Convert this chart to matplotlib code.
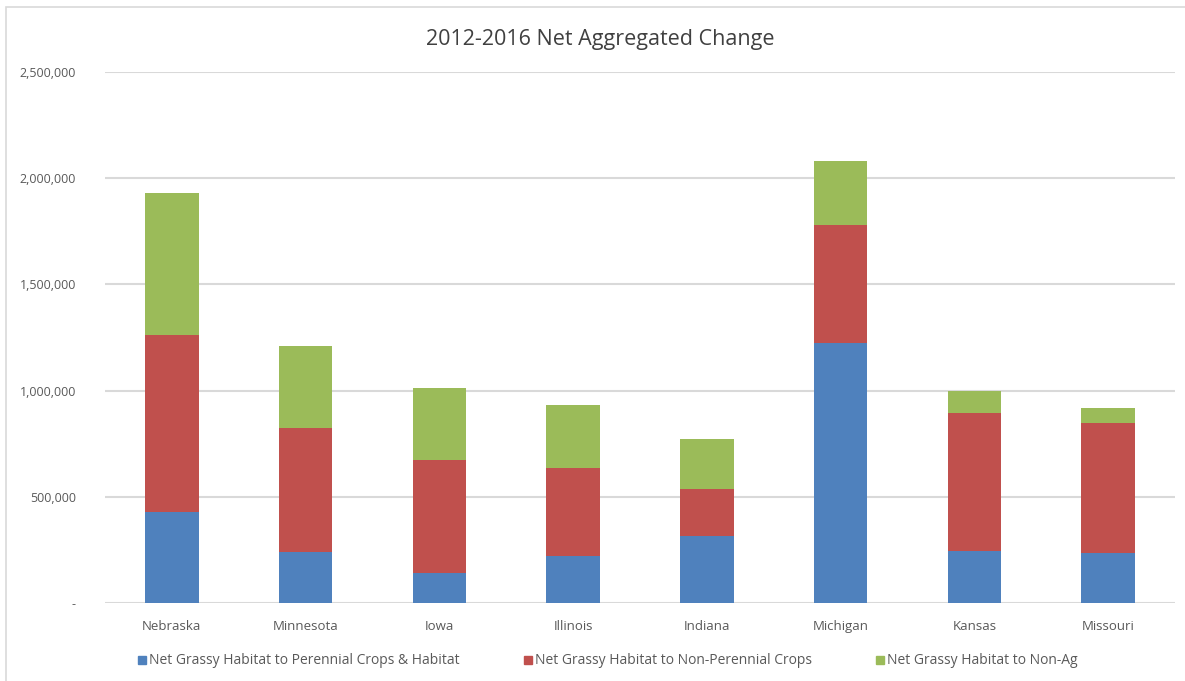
import matplotlib
matplotlib.use("Agg")
import matplotlib.pyplot as plt
from matplotlib.patches import Rectangle
from matplotlib.lines import Line2D

states = ["Nebraska", "Minnesota", "Iowa", "Illinois", "Indiana", "Michigan", "Kansas", "Missouri"]
perennial = [430000, 241000, 140000, 221000, 315000, 1223000, 245000, 234000]
non_perennial = [832000, 585000, 533000, 413000, 220000, 557000, 651000, 612000]
non_ag = [670000, 385000, 338000, 298000, 236000, 302000, 104000, 71000]
series_names = [
    "Net Grassy Habitat to Perennial Crops & Habitat",
    "Net Grassy Habitat to Non-Perennial Crops",
    "Net Grassy Habitat to Non-Ag",
]
y_ticks = [0, 500000, 1000000, 1500000, 2000000, 2500000]
y_tick_labels = ["-", "500,000", "1,000,000", "1,500,000", "2,000,000", "2,500,000"]

colors = ["#4F81BD", "#C0504D", "#9BBB59"]
text_color = "#595959"
font = ["Open Sans", "DejaVu Sans"]
plt.rcParams["font.family"] = font

W, H = 1185, 681
fig = plt.figure(figsize=(W / 100, H / 100), dpi=100)
fig.patch.set_facecolor("white")

# outer chart frame
fig.patches.append(Rectangle((6 / W, -0.05), 1.1, (H - 7) / H + 0.05,
                             transform=fig.transFigure, fill=False,
                             edgecolor="#D9D9D9", linewidth=1.2))

ax = fig.add_axes([105 / W, 1 - 603 / H, (1175 - 105) / W, (603 - 72) / H])
x = list(range(len(states)))
bw = 0.4
bottoms2 = perennial
bottoms3 = [a + b for a, b in zip(perennial, non_perennial)]
ax.bar(x, perennial, width=bw, color=colors[0], zorder=3)
ax.bar(x, non_perennial, width=bw, bottom=bottoms2, color=colors[1], zorder=3)
ax.bar(x, non_ag, width=bw, bottom=bottoms3, color=colors[2], zorder=3)

ax.set_xlim(-0.5, len(states) - 0.5)
ax.set_ylim(0, 2500000)
ax.set_yticks(y_ticks)
ax.set_yticklabels(y_tick_labels)
ax.set_xticks(x)
ax.set_xticklabels(states)
ax.tick_params(axis="both", length=0, colors=text_color)
ax.tick_params(axis="y", pad=21, labelsize=9)
ax.tick_params(axis="x", pad=12, labelsize=9.5)
for s in ax.spines.values():
    s.set_visible(False)
ax.grid(axis="y", color="#D9D9D9", linewidth=1.5, zorder=0)
ax.set_axisbelow(True)

fig.text(600 / W, 1 - 40 / H, "2012-2016 Net Aggregated Change",
         ha="center", va="center", fontsize=15.5, color="#404040")

handles = [Line2D([], [], marker="s", linestyle="none", markersize=6,
                  markerfacecolor=c, markeredgecolor=c) for c in colors]
fig.legend(handles, series_names, loc="center", bbox_to_anchor=(607 / W, 1 - 661 / H),
           ncol=3, frameon=False, fontsize=10, labelcolor=text_color,
           handletextpad=0.1, columnspacing=4.5, handlelength=0.8)

fig.savefig("out.png", dpi=100, facecolor="white")
